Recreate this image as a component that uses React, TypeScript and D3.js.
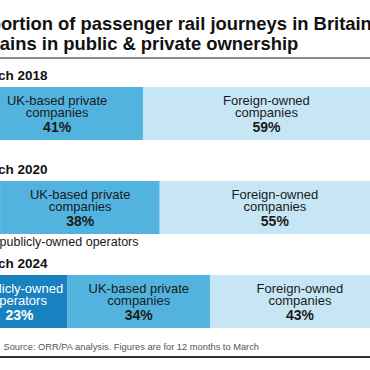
import { scaleBand, scaleLinear } from 'd3'

const years = ['2018', '2020', '2024']
const sectionLabels = ['March 2018', 'March 2020', 'March 2024']
const publicShare = [0, 7, 23]
const ukPrivateShare = [41, 38, 34]
const foreignShare = [59, 55, 43]

const titleLines = [
  'Proportion of passenger rail journeys in Britain',
  'on trains in public & private ownership',
]
const publicLabel = ['Publicly-owned', 'operators']
const ukLabel = ['UK-based private', 'companies']
const foreignLabel = ['Foreign-owned', 'companies']
const publicNote = '7% publicly-owned operators'
const footnote = 'PA graphic. Source: ORR/PA analysis. Figures are for 12 months to March'

const colors = {
  public: '#1881bf',
  uk: '#52b4de',
  foreign: '#c6e6f5',
  ink: '#1a1a1a',
}

type Segment = {
  readonly key: string
  readonly start: number
  readonly value: number
  readonly fill: string
  readonly label: readonly string[]
  readonly textColor: string
}

function buildSegments(index: number): Segment[] {
  const pub = publicShare[index]
  const uk = ukPrivateShare[index]
  const foreign = foreignShare[index]
  return [
    { key: 'public', start: 0, value: pub, fill: colors.public, label: publicLabel, textColor: '#ffffff' },
    { key: 'uk', start: pub, value: uk, fill: colors.uk, label: ukLabel, textColor: colors.ink },
    { key: 'foreign', start: pub + uk, value: foreign, fill: colors.foreign, label: foreignLabel, textColor: colors.ink },
  ]
}

export default function App() {
  const width = 370
  const height = 370
  const barHeight = 53
  const font = '"Liberation Sans", Arial, sans-serif'

  const xScale = scaleLinear().domain([0, 100]).range([-28.7, 390])
  const yScale = scaleBand<string>().domain(years).range([87, 87 + 94 * 3])

  return (
    <svg
      width={width}
      height={height}
      viewBox={`0 0 ${width} ${height}`}
      style={{ position: 'absolute', left: 0, top: 0, background: '#ffffff' }}
      fontFamily={font}
    >
      <rect width={width} height={height} fill="#ffffff" />
      {titleLines.map((line, i) => (
        <text key={line} x={-41} y={30 + i * 20} fontSize={18.4} fontWeight={700} fill="#111">
          {line}
        </text>
      ))}
      <line x1={0} x2={width} y1={58} y2={58} stroke="#666" strokeWidth={1.5} />

      {years.map((year, index) => {
        const top = yScale(year) ?? 0
        const segments = buildSegments(index).filter((segment) => segment.value > 0)
        return (
          <g key={year}>
            <text x={-26} y={top - 7} fontSize={13.5} fontWeight={700} fill="#111">
              {sectionLabels[index]}
            </text>
            {segments.map((segment) => (
              <rect
                key={segment.key}
                x={xScale(segment.start)}
                y={top}
                width={xScale(segment.start + segment.value) - xScale(segment.start)}
                height={barHeight}
                fill={segment.fill}
              />
            ))}
            {segments
              .filter((segment) => segment.value >= 10)
              .map((segment) => {
                const cx = (xScale(segment.start) + xScale(segment.start + segment.value)) / 2
                return (
                  <text key={segment.key} textAnchor="middle" fill={segment.textColor} fontSize={13}>
                    {segment.label.map((line, i) => (
                      <tspan key={line} x={cx} y={top + 17.5 + i * 12}>
                        {line}
                      </tspan>
                    ))}
                    <tspan x={cx} y={top + 45} fontWeight={700} fontSize={14}>
                      {`${segment.value}%`}
                    </tspan>
                  </text>
                )
              })}
            {index === 1 && (
              <text x={-22} y={top + barHeight + 12} fontSize={12.5} fill={colors.ink}>
                {publicNote}
              </text>
            )}
          </g>
        )
      })}

      <text x={-46} y={350} fontSize={9.3} fill="#555">
        {footnote}
      </text>
      <line x1={0} x2={width} y1={357} y2={357} stroke="#333" strokeWidth={2} />
    </svg>
  )
}
